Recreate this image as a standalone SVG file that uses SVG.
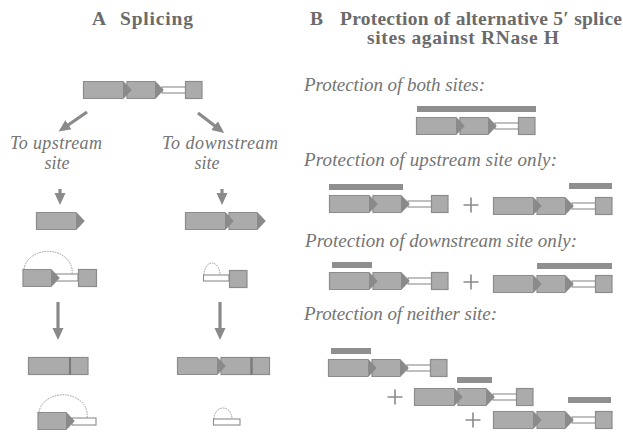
<svg xmlns="http://www.w3.org/2000/svg" xmlns:xlink="http://www.w3.org/1999/xlink" width="623" height="434" viewBox="0 0 623 434">
<style>
.ex{fill:#ababab;stroke:#8c8c8c;stroke-width:1.2}
.tip{fill:#8a8a8a}
.intr{fill:#fff;stroke:#8c8c8c;stroke-width:1.1}
.bar{fill:#8f8f8f}
.arr{stroke:#8a8a8a;stroke-width:3.2;fill:none}
.plus{stroke:#8a8a8a;stroke-width:1.6;fill:none}
.lar{fill:none;stroke:#9a9a9a;stroke-width:1;stroke-dasharray:1.6 1}
.ttl{font-family:"Liberation Serif","Times New Roman",serif;font-weight:bold;font-size:19.5px;fill:#6b6b6b}
.it{font-family:"Liberation Serif","Times New Roman",serif;font-style:italic;font-size:19px;fill:#747474}
.it2{font-family:"Liberation Serif","Times New Roman",serif;font-style:italic;font-size:18px;fill:#747474}
</style>
<defs>
<marker id="ah" markerUnits="userSpaceOnUse" markerWidth="13" markerHeight="12" refX="3" refY="5.5" orient="auto" viewBox="0 0 13 11">
<path d="M0,0 L12,5.5 L0,11 Z" fill="#8a8a8a"/>
</marker>
<g id="e1">
<path class="ex" d="M0.5,0.5 H40 L48,9 L40,17.5 H0.5 Z"/>
<polygon class="tip" points="40,0.8 48,9 40,17.2"/>
</g>
<g id="e2">
<path class="ex" d="M44,0.5 H72 L80,9 L72,17.5 H44 Z"/>
<polygon class="tip" points="72,0.8 80,9 72,17.2"/>
</g>
<g id="gene">
<rect class="intr" x="79" y="6" width="23.5" height="6"/>
<use xlink:href="#e2"/>
<use xlink:href="#e1"/>
<rect class="ex" x="102.5" y="0.5" width="16.5" height="17"/>
</g>
</defs>
<rect width="623" height="434" fill="#fff"/>

<g id="titles">
<text class="ttl" x="92" y="25">A</text>
<text class="ttl" x="120" y="25" textLength="73">Splicing</text>
<text class="ttl" x="310" y="25">B</text>
<text class="ttl" x="340" y="25" textLength="282">Protection of alternative 5′ splice</text>
<text class="ttl" x="367" y="44" textLength="192">sites against RNase H</text>
</g>

<g id="labels">
<text class="it2" x="10" y="149" textLength="92">To upstream</text>
<text class="it2" x="57" y="169" text-anchor="middle">site</text>
<text class="it2" x="162" y="149" textLength="116">To downstream</text>
<text class="it2" x="207" y="169" text-anchor="middle">site</text>
<text class="it" x="304" y="91" textLength="181">Protection of both sites:</text>
<text class="it" x="304" y="166" textLength="253">Protection of upstream site only:</text>
<text class="it" x="305" y="247" textLength="272">Protection of downstream site only:</text>
<text class="it" x="304" y="320" textLength="193">Protection of neither site:</text>
</g>

<g id="connectors">
<line class="arr" x1="87" y1="112" x2="66" y2="126.5" marker-end="url(#ah)"/>
<line class="arr" x1="198" y1="113" x2="217" y2="127.5" marker-end="url(#ah)"/>
<line class="arr" x1="60" y1="189" x2="60" y2="196" marker-end="url(#ah)"/>
<line class="arr" x1="222" y1="189" x2="222" y2="196" marker-end="url(#ah)"/>
<line class="arr" x1="58" y1="302" x2="58" y2="331" marker-end="url(#ah)"/>
<line class="arr" x1="220" y1="302" x2="220" y2="331" marker-end="url(#ah)"/>
</g>

<g id="pre-mRNA">
<use xlink:href="#gene" transform="translate(83,81)"/>
</g>

<g id="up-exon1">
<use xlink:href="#e1" transform="translate(36,212)"/>
</g>
<g id="down-exon1-2">
<use xlink:href="#e2" transform="translate(185,212)"/>
<use xlink:href="#e1" transform="translate(185,212)"/>
</g>

<g id="up-lariat-intermediate">
<path class="lar" d="M24,269 A24,20 0 0 1 72,274"/>
<rect class="intr" x="55" y="274" width="23" height="7"/>
<use xlink:href="#e2" transform="translate(-21,269)"/>
<rect class="ex" x="78.5" y="269.5" width="18" height="17"/>
</g>
<g id="down-lariat-intermediate">
<path class="lar" d="M204,275 A8,12 0 0 1 220,275"/>
<rect class="intr" x="203.5" y="275" width="25.5" height="6"/>
<rect class="ex" x="229.5" y="270.5" width="17.5" height="17"/>
</g>

<g id="up-spliced">
<rect class="ex" x="28.5" y="357.5" width="41" height="17"/>
<rect class="ex" x="70.5" y="357.5" width="17.5" height="17"/>
<line x1="70" y1="357" x2="70" y2="375" stroke="#7a7a7a" stroke-width="2"/>
</g>
<g id="down-spliced">
<rect class="ex" x="221" y="357.5" width="30" height="17"/>
<use xlink:href="#e1" transform="translate(177,357)"/>
<rect class="ex" x="252" y="357.5" width="17.5" height="17"/>
<line x1="251.5" y1="357" x2="251.5" y2="375" stroke="#7a7a7a" stroke-width="2"/>
</g>

<g id="up-lariat-product">
<path class="lar" d="M39,412 A24,20 0 0 1 87,418"/>
<rect class="intr" x="72" y="418" width="24" height="7"/>
<use xlink:href="#e2" transform="translate(-6,412)"/>
</g>
<g id="down-lariat-product">
<path class="lar" d="M214,419 A9,11 0 0 1 232,419"/>
<rect class="intr" x="213.5" y="419" width="26.5" height="6"/>
</g>

<g id="both-sites">
<rect class="bar" x="417" y="106" width="119" height="6"/>
<use xlink:href="#gene" transform="translate(416,117)"/>
</g>

<g id="upstream-only-a">
<rect class="bar" x="329" y="184" width="74" height="6"/>
<use xlink:href="#gene" transform="translate(329,195)"/>
</g>
<g id="upstream-plus">
<path class="plus" d="M463.5,205 H478.5 M471,197.5 V212.5"/>
</g>
<g id="upstream-only-b">
<rect class="bar" x="569" y="183" width="43" height="6"/>
<use xlink:href="#gene" transform="translate(493,197)"/>
</g>

<g id="downstream-only-a">
<rect class="bar" x="332" y="262" width="40" height="6"/>
<use xlink:href="#gene" transform="translate(329,272)"/>
</g>
<g id="downstream-plus">
<path class="plus" d="M463.5,282 H478.5 M471,274.5 V289.5"/>
</g>
<g id="downstream-only-b">
<rect class="bar" x="537" y="263" width="75" height="6"/>
<use xlink:href="#gene" transform="translate(493,275)"/>
</g>

<g id="neither-a">
<rect class="bar" x="331" y="348" width="40" height="6"/>
<use xlink:href="#gene" transform="translate(328,359)"/>
</g>
<g id="neither-plus-1">
<path class="plus" d="M387.5,397 H402.5 M395,389.5 V404.5"/>
</g>
<g id="neither-b">
<rect class="bar" x="457" y="377" width="35" height="6"/>
<use xlink:href="#gene" transform="translate(414,388)"/>
</g>
<g id="neither-plus-2">
<path class="plus" d="M465.5,420 H480.5 M473,412.5 V427.5"/>
</g>
<g id="neither-c">
<rect class="bar" x="568" y="397" width="43" height="6"/>
<use xlink:href="#gene" transform="translate(493,411)"/>
</g>
</svg>
